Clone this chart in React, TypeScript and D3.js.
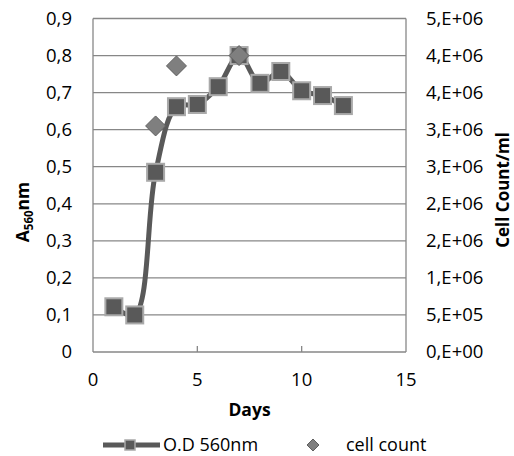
import React from "react";
import * as d3 from "d3";

const days = [1, 2, 3, 4, 5, 6, 7, 8, 9, 10, 11, 12];
const odValues = [0.122, 0.1, 0.485, 0.662, 0.668, 0.716, 0.8, 0.725, 0.757, 0.705, 0.692, 0.665];
const cellDays = [3, 4, 7];
const cellCounts = [3.05e6, 3.86e6, 4.0e6];

const xTicks = [0, 5, 10, 15];
const leftTicks = [0, 0.1, 0.2, 0.3, 0.4, 0.5, 0.6, 0.7, 0.8, 0.9];
const leftTickLabels = ["0", "0,1", "0,2", "0,3", "0,4", "0,5", "0,6", "0,7", "0,8", "0,9"];
const rightTicks = [0, 5e5, 1e6, 1.5e6, 2e6, 2.5e6, 3e6, 3.5e6, 4e6, 4.5e6];
const rightTickLabels = ["0,E+00", "5,E+05", "1,E+06", "2,E+06", "2,E+06", "3,E+06", "3,E+06", "4,E+06", "4,E+06", "5,E+06"];

const W = 514;
const H = 456;
const L = 93, R = 406, T = 18.5, B = 352;
const FONT = "'Open Sans', sans-serif";
const TICK_FS = 18.5;

export default function App() {
  const x = d3.scaleLinear().domain([0, 15]).range([L, R]);
  const yL = d3.scaleLinear().domain([0, 0.9]).range([B, T]);
  const yR = d3.scaleLinear().domain([0, 4.5e6]).range([B, T]);

  const line = d3
    .line<number>()
    .x((_, i) => x(days[i]))
    .y((d) => yL(d))
    .curve(d3.curveCatmullRom.alpha(0.5));

  const grid = "#878787";
  const sq = 17;
  const dm = 10;
  const diamond = (cx: number, cy: number, r: number) =>
    `M${cx},${cy - r}L${cx + r},${cy}L${cx},${cy + r}L${cx - r},${cy}Z`;

  return (
    <svg width={W} height={H} style={{ display: "block", position: "absolute", left: 0, top: 0 }} fontFamily={FONT}>
      <rect width={W} height={H} fill="#fff" />
      {leftTicks.map((t) => (
        <line key={t} x1={L} x2={R} y1={yL(t)} y2={yL(t)} stroke={grid} strokeWidth={1.3} />
      ))}
      <line x1={L} x2={L} y1={T} y2={B} stroke={grid} strokeWidth={1.3} />
      <line x1={R} x2={R} y1={T} y2={B} stroke={grid} strokeWidth={1.3} />
      {xTicks.slice(1, -1).map((t) => (
        <line key={t} x1={x(t)} x2={x(t)} y1={B} y2={B - 6} stroke={grid} strokeWidth={1.3} />
      ))}
      {leftTicks.map((t, i) => (
        <text key={t} x={72} y={yL(t)} dy="0.35em" textAnchor="end" fontSize={TICK_FS} fill="#000">
          {leftTickLabels[i]}
        </text>
      ))}
      {rightTicks.map((t, i) => (
        <text key={t} x={426} y={yR(t)} dy="0.35em" textAnchor="start" fontSize={TICK_FS} fill="#000">
          {rightTickLabels[i]}
        </text>
      ))}
      {xTicks.map((t) => (
        <text key={t} x={x(t)} y={380} dy="0.35em" textAnchor="middle" fontSize={TICK_FS} fill="#000">
          {t}
        </text>
      ))}
      <text x={(L + R) / 2} y={410} dy="0.35em" textAnchor="middle" fontSize={17.5} fontWeight="bold">
        Days
      </text>
      <text transform="translate(29,212) rotate(-90)" textAnchor="middle" fontSize={17.5} fontWeight="bold">
        A<tspan fontSize={11.5} dy={4}>560</tspan>
        <tspan dy={-4}>nm</tspan>
      </text>
      <text transform="translate(509,190) rotate(-90)" textAnchor="middle" fontSize={17} fontWeight="bold">
        Cell Count/ml
      </text>

      <path d={line(odValues) || ""} fill="none" stroke="#595959" strokeWidth={5} />
      {odValues.map((v, i) => (
        <rect
          key={i}
          x={x(days[i]) - sq / 2}
          y={yL(v) - sq / 2}
          width={sq}
          height={sq}
          fill="#595959"
          stroke="#a9a9a9"
          strokeWidth={2}
        />
      ))}
      {cellCounts.map((v, i) => (
        <path key={i} d={diamond(x(cellDays[i]), yR(v), dm)} fill="#7f7f7f" stroke="#5f5f5f" strokeWidth={1} />
      ))}

      <line x1={103} x2={160} y1={445} y2={445} stroke="#595959" strokeWidth={5} />
      <rect x={125} y={440} width={10} height={10} fill="#595959" stroke="#a9a9a9" strokeWidth={1.5} />
      <text x={163} y={445} dy="0.35em" fontSize={18}>
        O.D 560nm
      </text>
      <path d={diamond(313, 445, 6)} fill="#7f7f7f" stroke="#5f5f5f" strokeWidth={1} />
      <text x={346} y={445} dy="0.35em" fontSize={18}>
        cell count
      </text>
    </svg>
  );
}
